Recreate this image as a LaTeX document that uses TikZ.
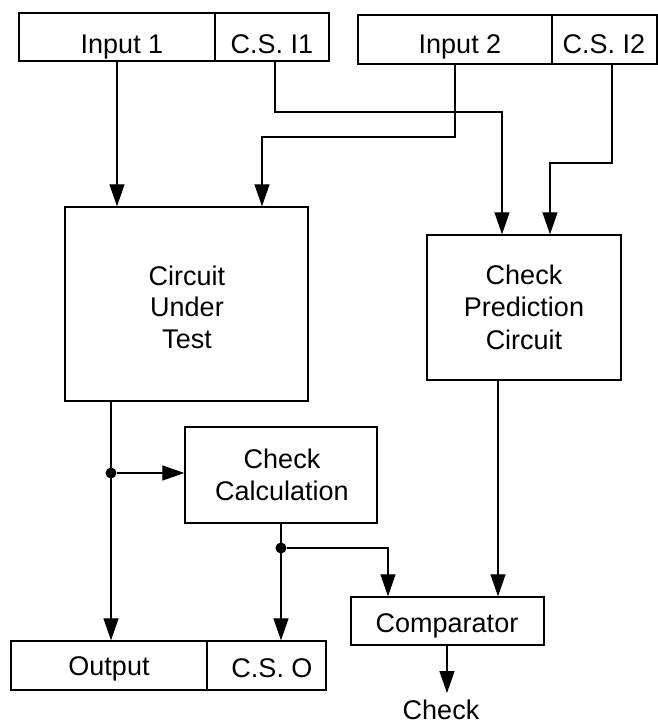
\documentclass[tikz,border=0pt]{standalone}
\usepackage{fontspec}
\setmainfont{Liberation Sans}
\usetikzlibrary{arrows.meta}
\begin{document}
\begin{tikzpicture}[x=1pt,y=-1pt,
  box/.style={draw,line width=1.4pt,inner sep=0pt},
  txt/.style={inner sep=0pt,anchor=base,font=\fontsize{27}{31.5}\selectfont},
  conn/.style={line width=1.3pt},
  arr/.style={conn,-{Triangle[length=22pt,width=15pt]}},
  junction/.style={circle,fill,inner sep=0pt,minimum size=11pt}]
\useasboundingbox[fill=white] (0,0) rectangle (658,724);
% boxes
\node[box,minimum width=196,minimum height=48] (in1) at (117,37) {};
\node[box,minimum width=114,minimum height=48] (cs1) at (272,37) {};
\node[box,minimum width=194,minimum height=49] (in2) at (455,39.5) {};
\node[box,minimum width=105,minimum height=49] (cs2) at (604.5,39.5) {};
\node[box,minimum width=243,minimum height=194] (cut) at (186.5,304) {};
\node[box,minimum width=194,minimum height=145] (cpc) at (524,307.5) {};
\node[box,minimum width=192,minimum height=96] (cc) at (281,475) {};
\node[box,minimum width=193,minimum height=48] (cmp) at (447.5,621) {};
\node[box,minimum width=196,minimum height=49] (out) at (109,665.5) {};
\node[box,minimum width=119,minimum height=49] (cso) at (266.5,665.5) {};
% texts
\node[txt] (tin1) at (122,53) {Input 1};
\node[txt] (tcs1) at (272,53) {C.S. I1};
\node[txt] (tin2) at (460,53) {Input 2};
\node[txt] (tcs2) at (604,53) {C.S. I2};
\node[txt] (tcut1) at (187,285) {Circuit};
\node[txt] (tcut2) at (187,316.5) {Under};
\node[txt] (tcut3) at (187,348) {Test};
\node[txt] (tcpc1) at (524,284) {Check};
\node[txt] (tcpc2) at (524,316.5) {Prediction};
\node[txt] (tcpc3) at (524,349) {Circuit};
\node[txt] (tcc1) at (282,468) {Check};
\node[txt] (tcc2) at (282,500) {Calculation};
\node[txt] (tcmp) at (447,632) {Comparator};
\node[txt] (tout) at (109,675) {Output};
\node[txt] (tcso) at (272,677) {C.S. O};
\node[txt] (chk) at (441,719) {Check};
% bend points
\coordinate (b1) at (275,112);
\coordinate (b2) at (502,112);
\coordinate (c1) at (455,137);
\coordinate (c2) at (262,137);
\coordinate (d1) at (612,163);
\coordinate (d2) at (550,163);
\coordinate (e0) at (111,0);
\node[junction] (j1) at (111,473) {};
\node[junction] (j2) at (281,548) {};
\coordinate (f1) at (388,548);
\coordinate (g1) at (498,0);
\coordinate (h1) at (447,0);
\coordinate (h2) at (447,693);
% connectors
\draw[arr] (in1.south) -- (in1.south |- cut.north);
\draw[arr] (cs1.south -| b1) -- (b1) -- (b2) -- (b2 |- cpc.north);
\draw[arr] (in2.south -| c1) -- (c1) -- (c2) -- (c2 |- cut.north);
\draw[arr] (cs2.south -| d1) -- (d1) -- (d2) -- (d2 |- cpc.north);
\draw[arr] (cut.south -| e0) -- (e0 |- out.north);
\draw[arr] (j1) -- (j1 -| cc.west);
\draw[arr] (cc.south -| j2) -- (j2 |- cso.north);
\draw[arr] (j2) -- (f1) -- (f1 |- cmp.north);
\draw[arr] (cpc.south -| g1) -- (g1 |- cmp.north);
\draw[arr] (cmp.south -| h1) -- (h2);
\end{tikzpicture}
\end{document}
